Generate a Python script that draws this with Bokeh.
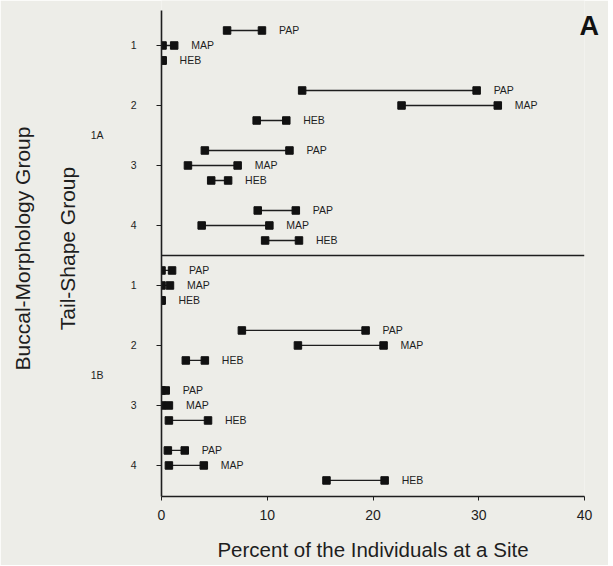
from bokeh.plotting import figure
from bokeh.models import LinearAxis, FixedTicker, Range1d, ColumnDataSource
from bokeh.core.properties import value
from bokeh.embed import file_html
from bokeh.resources import INLINE

# ---- data ----
groups = ["1A", "1B"]
tails = ["1", "2", "3", "4"]
species = ["PAP", "MAP", "HEB"]
# per group, tail, species (PAP, MAP, HEB): low and high percent
low_1A = [6.2, 0.1, 0.1, 13.3, 22.7, 9.0, 4.1, 2.5, 4.7, 9.1, 3.8, 9.8]
high_1A = [9.5, 1.2, 0.1, 29.8, 31.8, 11.8, 12.1, 7.2, 6.3, 12.7, 10.2, 13.0]
low_1B = [0.0, 0.0, 0.0, 7.6, 12.9, 2.3, 0.0, 0.0, 0.7, 0.6, 0.7, 15.6]
high_1B = [1.0, 0.8, 0.0, 19.3, 21.0, 4.1, 0.4, 0.7, 4.4, 2.2, 4.0, 21.1]
x_ticks = [0, 10, 20, 30, 40]
panel_letter = "A"

BG = "#edede8"
INK = "#1e1e1e"
FONT = "Liberation Sans"

lows = low_1A + low_1B
highs = high_1A + high_1B
rows, labels = [], []
for g in range(len(groups)):
    for t in range(len(tails)):
        for s in range(len(species)):
            k = g * len(tails) + t
            rows.append(k * 4 + s)
            labels.append(species[s])

src = ColumnDataSource(dict(lo=lows, hi=highs, y=rows, lab=labels))

W, H = 608, 565
p = figure(width=W, height=H,
           x_range=Range1d(x_ticks[0], x_ticks[-1]), y_range=Range1d(31.07, -2.0),
           x_axis_type=None, y_axis_type=None,
           output_backend="svg", toolbar_location=None,
           min_border_left=161, min_border_right=24, min_border_top=0, min_border_bottom=69)
p.background_fill_color = BG
p.border_fill_color = BG
p.outline_line_color = None
p.grid.visible = False

# separator between groups
sep_y = len(tails) * 4 - 1
p.segment(x0=[x_ticks[0]], x1=[x_ticks[-1]], y0=[sep_y], y1=[sep_y], line_color=INK, line_width=1.6)

p.segment(x0="lo", x1="hi", y0="y", y1="y", source=src, line_color=INK, line_width=1.3)
p.scatter(x="lo", y="y", source=src, marker="square", size=7.5, color="#111111")
p.scatter(x="hi", y="y", source=src, marker="square", size=7.5, color="#111111")
p.text(x="hi", y="y", text="lab", source=src, x_offset=17, text_baseline="middle",
       text_align="left", text_font=value(FONT), text_font_size="10.5px", text_color=INK)

# x axis
xa = LinearAxis(ticker=FixedTicker(ticks=x_ticks), bounds=(x_ticks[0], x_ticks[-1]),
                axis_label="Percent of the Individuals at a Site")
xa.axis_line_color = INK
xa.axis_line_width = 1.6
xa.major_tick_in = 0
xa.major_tick_out = 4
xa.major_tick_line_color = INK
xa.minor_tick_line_color = None
xa.major_label_standoff = 9
xa.major_label_text_font = FONT
xa.major_label_text_font_size = "14px"
xa.major_label_text_color = INK
xa.axis_label_text_font = FONT
xa.axis_label_text_font_size = "20.5px"
xa.axis_label_text_font_style = "normal"
xa.axis_label_text_color = INK
xa.axis_label_standoff = 15
p.add_layout(xa, "below")

# y axis 1: tail-shape numbers
tail_ticks = [g * len(tails) * 4 + t * 4 + 1 for g in range(len(groups)) for t in range(len(tails))]
ya = LinearAxis(ticker=FixedTicker(ticks=tail_ticks), bounds=(-1.33, 31.07),
                major_label_overrides={tk: tails[i % len(tails)] for i, tk in enumerate(tail_ticks)})
ya.axis_line_color = INK
ya.axis_line_width = 1.6
ya.major_tick_in = 0
ya.major_tick_out = 5
ya.major_tick_line_color = INK
ya.minor_tick_line_color = None
ya.major_label_standoff = 20
ya.major_label_text_font = FONT
ya.major_label_text_font_size = "10.5px"
ya.major_label_text_color = INK
ya.major_label_orientation = "horizontal"
p.add_layout(ya, "left")

# y axis 2: buccal-morphology groups
grp_ticks = [g * len(tails) * 4 + 7 for g in range(len(groups))]
ya2 = LinearAxis(ticker=FixedTicker(ticks=grp_ticks),
                 major_label_overrides={tk: groups[i] for i, tk in enumerate(grp_ticks)},
                 axis_label="Tail-Shape Group")
ya2.axis_line_color = None
ya2.major_tick_line_color = None
ya2.minor_tick_line_color = None
ya2.major_tick_in = 0
ya2.major_tick_out = 0
ya2.major_label_standoff = 24
ya2.major_label_text_font = FONT
ya2.major_label_text_font_size = "10.5px"
ya2.major_label_text_color = INK
ya2.major_label_orientation = "horizontal"
ya2.axis_label_text_font = FONT
ya2.axis_label_text_font_size = "21px"
ya2.axis_label_text_font_style = "normal"
ya2.axis_label_text_color = INK
ya2.axis_label_standoff = 9
p.add_layout(ya2, "left")

# y axis 3: outer title
ya3 = LinearAxis(ticker=FixedTicker(ticks=[]), axis_label="Buccal-Morphology Group")
ya3.axis_line_color = None
ya3.major_tick_line_color = None
ya3.minor_tick_line_color = None
ya3.major_tick_in = 0
ya3.major_tick_out = 0
ya3.major_label_standoff = 0
ya3.axis_label_text_font = FONT
ya3.axis_label_text_font_size = "21px"
ya3.axis_label_text_font_style = "normal"
ya3.axis_label_text_color = INK
ya3.axis_label_standoff = 19
p.add_layout(ya3, "left")

# panel letter, drawn as the single label of a right-hand axis (not clipped to the frame)
letter_y = -0.33
ra = LinearAxis(ticker=FixedTicker(ticks=[letter_y]),
                major_label_overrides={letter_y: panel_letter})
ra.axis_line_color = None
ra.major_tick_line_color = None
ra.minor_tick_line_color = None
ra.major_tick_in = 0
ra.major_tick_out = 0
ra.major_label_standoff = -5
ra.major_label_text_font = FONT
ra.major_label_text_font_size = "27px"
ra.major_label_text_font_style = "bold"
ra.major_label_text_color = "#111111"
ra.major_label_orientation = "horizontal"
p.add_layout(ra, "right")

open("out.html", "w").write(file_html(p, INLINE))
